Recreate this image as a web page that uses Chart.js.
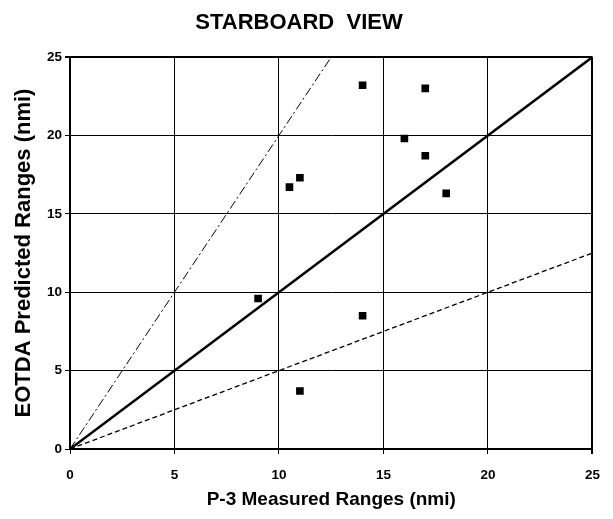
<!DOCTYPE html>
<html>
<head>
<meta charset="utf-8">
<script src="https://cdn.jsdelivr.net/npm/chart.js@4"></script>
<style>
  html, body { margin: 0; padding: 0; background: #fff; }
  #wrap { width: 613px; height: 519px; }
</style>
</head>
<body>
<div id="wrap"><canvas id="rangeChart" width="613" height="519"></canvas></div>
<script>
// P-3 measured vs EOTDA predicted ranges (nmi)
const measured  = [14, 17, 16, 17, 11, 10.5, 18, 9, 14, 11];
const predicted = [23.2, 23, 19.8, 18.7, 17.3, 16.7, 16.3, 9.6, 8.5, 3.7];

// reference lines (endpoints)
const perfectX = [0, 25],   perfectY = [0, 25];
const doubleX  = [0, 12.5], doubleY  = [0, 25];
const halfX    = [0, 25],   halfY    = [0, 12.5];

const axisTicks = [0, 5, 10, 15, 20, 25];

function toPoints(xs, ys) {
    return xs.map((x, i) => ({ x: x, y: ys[i] }));
}

const fontFamily = '"Liberation Sans", Arial, sans-serif';
const tickFont = { family: fontFamily, size: 13.5, weight: 'bold' };

const edgeWidth = ctx => (ctx.tick && ctx.tick.value === 25 ? 2 : 1);

document.addEventListener('DOMContentLoaded', function() {
    const ctx = document.getElementById('rangeChart').getContext('2d');
    new Chart(ctx, {
        type: 'scatter',
        data: {
            datasets: [
                {
                    label: 'Measurements',
                    data: toPoints(measured, predicted),
                    pointStyle: 'rect',
                    pointRadius: 5.4,
                    backgroundColor: '#000',
                    borderColor: '#000',
                    borderWidth: 0,
                    order: 0
                },
                {
                    type: 'line',
                    label: 'y = x',
                    data: toPoints(perfectX, perfectY),
                    borderColor: '#000',
                    borderWidth: 2.5,
                    pointRadius: 0,
                    fill: false,
                    order: 1
                },
                {
                    type: 'line',
                    label: 'y = 2x',
                    data: toPoints(doubleX, doubleY),
                    borderColor: '#000',
                    borderWidth: 1,
                    borderDash: [9, 3, 2, 3],
                    pointRadius: 0,
                    fill: false,
                    order: 2
                },
                {
                    type: 'line',
                    label: 'y = x/2',
                    data: toPoints(halfX, halfY),
                    borderColor: '#000',
                    borderWidth: 1.3,
                    borderDash: [5, 3],
                    pointRadius: 0,
                    fill: false,
                    order: 3
                }
            ]
        },
        options: {
            responsive: false,
            animation: false,
            layout: { padding: { left: 0, right: 15, top: 0, bottom: 0 } },
            plugins: {
                legend: { display: false },
                tooltip: { enabled: false },
                title: {
                    display: true,
                    text: 'STARBOARD  VIEW',
                    color: '#000',
                    font: { family: fontFamily, size: 22, weight: 'bold' },
                    padding: { top: 9.3, bottom: 21.3 }
                }
            },
            scales: {
                x: {
                    type: 'linear',
                    min: 0,
                    max: 25,
                    afterBuildTicks: s => { s.ticks = axisTicks.map(v => ({ value: v })); },
                    afterFit: s => { s.height = 70; },
                    grid: { color: '#000', lineWidth: edgeWidth, tickLength: 5, tickColor: '#000' },
                    border: { color: '#000', width: 2 },
                    ticks: { color: '#000', font: tickFont, padding: 13, maxRotation: 0 },
                    title: {
                        display: true,
                        text: 'P-3 Measured Ranges (nmi)',
                        color: '#000',
                        font: { family: fontFamily, size: 19, weight: 'bold' },
                        padding: { top: 2, bottom: 8 }
                    }
                },
                y: {
                    type: 'linear',
                    min: 0,
                    max: 25,
                    afterBuildTicks: s => { s.ticks = axisTicks.map(v => ({ value: v })); },
                    afterFit: s => { s.width = 70; },
                    grid: { color: '#000', lineWidth: edgeWidth, tickLength: 5, tickColor: '#000' },
                    border: { color: '#000', width: 2 },
                    ticks: { color: '#000', font: tickFont, padding: 3 },
                    title: {
                        display: true,
                        text: 'EOTDA Predicted Ranges (nmi)',
                        color: '#000',
                        font: { family: fontFamily, size: 22, weight: 'bold' },
                        padding: { top: 11, bottom: 2 }
                    }
                }
            }
        }
    });
});
</script>
</body>
</html>
